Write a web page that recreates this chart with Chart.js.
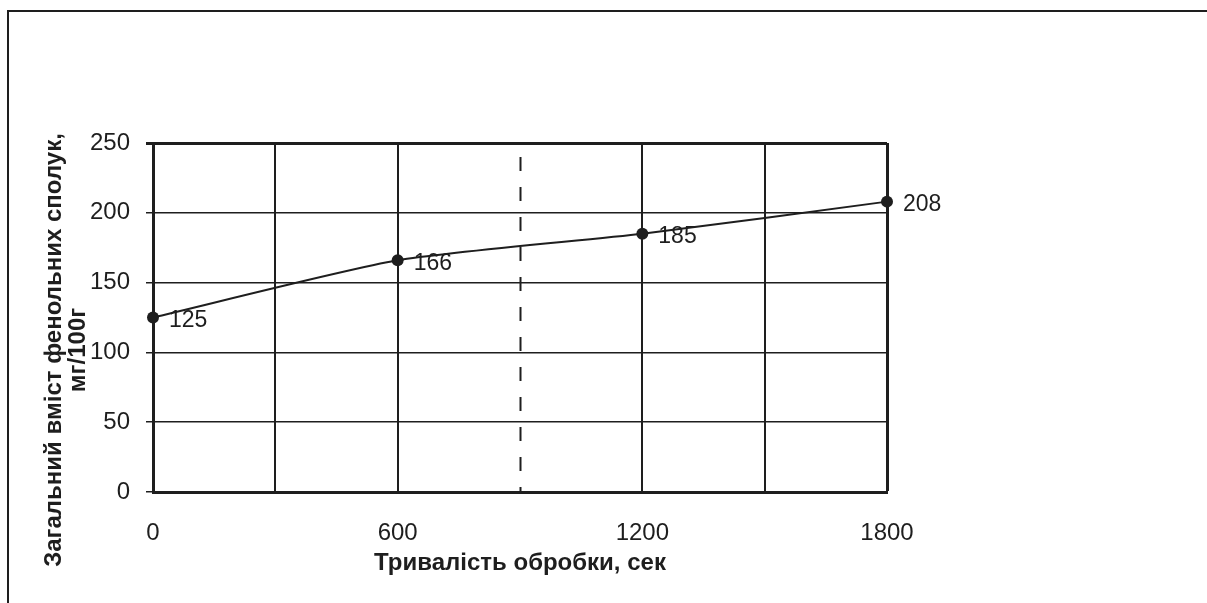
<!DOCTYPE html>
<html>
<head>
<meta charset="utf-8">
<script src="https://cdn.jsdelivr.net/npm/chart.js@4.4.1/dist/chart.umd.min.js"></script>
<style>
  html, body { margin: 0; padding: 0; background: #fff; }
  #wrap { position: relative; width: 1207px; height: 603px; }
  #frame { position: absolute; left: 7px; top: 10px; width: 1200px; height: 593px;
           border-left: 2px solid #1e1e1e; border-top: 2px solid #1e1e1e; pointer-events: none; }
</style>
</head>
<body>
<div id="wrap">
  <canvas id="myChart" width="1207" height="603"></canvas>
  <div id="frame"></div>
</div>
<script>
const durations = [0, 600, 1200, 1800];
const phenolics = [125, 166, 185, 208];
const xTickLabels = [0, 600, 1200, 1800];
const yTitle = ['Загальний вміст фенольних сполук,', 'мг/100г'];
const xTitle = 'Тривалість обробки, сек';

const ink = '#1e1e1e';
const fontFamily = '"Liberation Sans", Arial, sans-serif';

// point labels, the dashed middle line and axis titles
const extras = {
  id: 'extras',
  beforeDatasetsDraw(chart) {
    const {ctx, chartArea, scales: {x}} = chart;
    const px = Math.round(x.getPixelForValue(900)) + 0.5;
    ctx.save();
    ctx.strokeStyle = ink;
    ctx.lineWidth = 2;
    ctx.setLineDash([14, 16]);
    ctx.beginPath();
    ctx.moveTo(px, chartArea.top + 14);
    ctx.lineTo(px, chartArea.bottom);
    ctx.stroke();
    ctx.restore();
  },
  afterDatasetsDraw(chart) {
    const {ctx, chartArea} = chart;
    const meta = chart.getDatasetMeta(0);
    ctx.save();
    ctx.fillStyle = ink;
    ctx.font = '23px ' + fontFamily;
    ctx.textAlign = 'left';
    ctx.textBaseline = 'middle';
    meta.data.forEach((pt, i) => {
      ctx.fillText(String(phenolics[i]), pt.x + 16, pt.y + 3);
    });

    ctx.font = 'bold 24px ' + fontFamily;
    ctx.textAlign = 'center';
    ctx.fillText(xTitle, (chartArea.left + chartArea.right) / 2, 563);

    ctx.translate(0, 350);
    ctx.rotate(-Math.PI / 2);
    ctx.fillText(yTitle[0], 0, 54);
    ctx.fillText(yTitle[1], 0, 78);
    ctx.restore();
  }
};

new Chart(document.getElementById('myChart'), {
  type: 'line',
  data: {
    datasets: [{
      data: durations.map((d, i) => ({x: d, y: phenolics[i]})),
      borderColor: ink,
      backgroundColor: ink,
      borderWidth: 2,
      pointRadius: 6,
      pointBackgroundColor: ink,
      pointBorderWidth: 0,
      tension: 0.2,
      fill: false,
      clip: false
    }]
  },
  options: {
    responsive: false,
    animation: false,
    layout: { padding: { top: 143, right: 320, left: 0, bottom: 0 } },
    plugins: {
      legend: { display: false },
      tooltip: { enabled: false }
    },
    scales: {
      x: {
        type: 'linear',
        min: 0,
        max: 1800,
        afterFit(scale) { scale.height = 111; },
        afterBuildTicks(scale) {
          scale.ticks = [0, 300, 600, 900, 1200, 1500, 1800].map(v => ({value: v}));
        },
        ticks: {
          color: ink,
          font: { size: 24, family: fontFamily },
          padding: 27,
          maxRotation: 0,
          autoSkip: false,
          callback: v => xTickLabels.includes(v) ? String(v) : ''
        },
        grid: {
          drawTicks: false,
          color: ctx => ctx.tick && ctx.tick.value === 900 ? 'rgba(0,0,0,0)' : ink,
          lineWidth: ctx => ctx.tick && ctx.tick.value === 1800 ? 3 : 2
        },
        border: { color: ink, width: 3 }
      },
      y: {
        min: 0,
        max: 250,
        afterFit(scale) { scale.width = 153; },
        ticks: {
          stepSize: 50,
          color: ink,
          font: { size: 24, family: fontFamily },
          padding: 16
        },
        grid: {
          color: ink,
          tickColor: ink,
          tickLength: 7,
          lineWidth: ctx => ctx.tick && ctx.tick.value === 250 ? 3 : 1.5
        },
        border: { color: ink, width: 3 }
      }
    }
  },
  plugins: [extras]
});
</script>
</body>
</html>
